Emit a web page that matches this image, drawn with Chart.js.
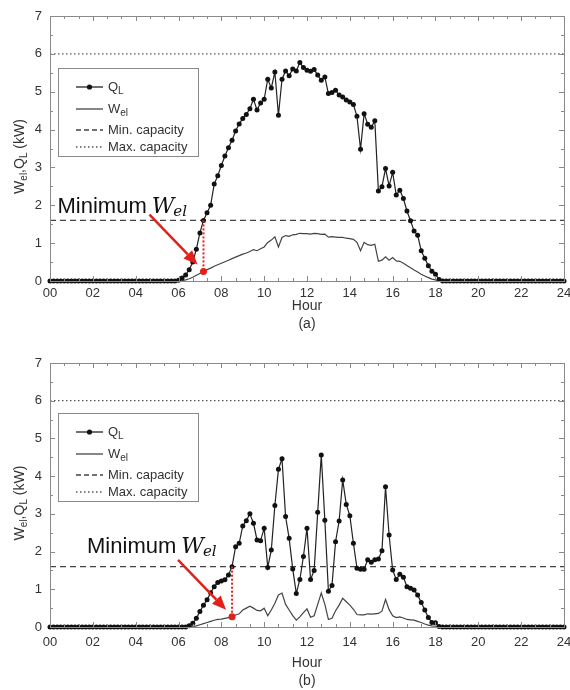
<!DOCTYPE html>
<html>
<head>
<meta charset="utf-8">
<script src="https://cdn.jsdelivr.net/npm/chart.js@4.4.1/dist/chart.umd.min.js"></script>
<style>
  html, body { margin: 0; padding: 0; background: #fff; }
  .panel { position: absolute; left: 0; width: 570px; height: 345px; }
</style>
</head>
<body>
<div class="panel" style="top:0"><canvas id="chartA" width="570" height="345"></canvas></div>
<div class="panel" style="top:345px"><canvas id="chartB" width="570" height="345"></canvas></div>
<script>
// Datos: un valor cada 10 minutos (00:00 a 24:00, 145 puntos)
const stepHours = 1 / 6;
const xTickLabels = ["00", "02", "04", "06", "08", "10", "12", "14", "16", "18", "20", "22", "24"];
const yTickLabels = ["0", "1", "2", "3", "4", "5", "6", "7"];
const minCapacity = 1.6;
const maxCapacity = 6.0;

// (a) Q_L
const qlA = [
  0,0,0,0,0,0,0,0,0,0, 0,0,0,0,0,0,0,0,0,0, 0,0,0,0,0,0,0,0,0,0, 0,0,0,0,0,0,
  0.02, 0.08, 0.16, 0.3, 0.5, 0.84, 1.27, 1.6, 1.8, 2.0,
  2.56, 2.78, 3.05, 3.3, 3.52, 3.72, 3.96, 4.15, 4.29, 4.4,
  4.55, 4.8, 4.52, 4.7, 4.8, 5.33, 5.1, 5.52, 4.38, 5.33,
  5.55, 5.42, 5.6, 5.55, 5.77, 5.64, 5.57, 5.54, 5.59, 5.44,
  5.3, 5.39, 4.95, 4.98, 5.04, 4.91, 4.86, 4.78, 4.73, 4.66,
  4.35, 3.48, 4.42, 4.14, 4.06, 4.23, 2.38, 2.49, 2.97, 2.51,
  2.87, 2.27, 2.4, 2.18, 1.85, 1.59, 1.32, 1.21, 0.8, 0.6,
  0.4, 0.26, 0.18, 0.04,
  0,0,0,0,0,0,0,0,0,0, 0,0,0,0,0,0,0,0,0,0, 0,0,0,0,0,0,0,0,0,0, 0,0,0,0,0
];
// (a) W_el
const welA = [
  0,0,0,0,0,0,0,0,0,0, 0,0,0,0,0,0,0,0,0,0, 0,0,0,0,0,0,0,0,0,0, 0,0,0,0,0,0,
  0, 0.01, 0.03, 0.06, 0.1, 0.15, 0.2, 0.25, 0.3, 0.34,
  0.39, 0.43, 0.47, 0.51, 0.55, 0.59, 0.63, 0.67, 0.71, 0.74,
  0.78, 0.83, 0.8, 0.85, 0.9, 1.02, 1.08, 1.17, 0.9, 1.15,
  1.2, 1.18, 1.22, 1.23, 1.26, 1.25, 1.25, 1.24, 1.26, 1.25,
  1.23, 1.24, 1.16, 1.17, 1.16, 1.15, 1.15, 1.13, 1.12, 1.1,
  1.02, 0.8, 1.02, 0.96, 0.94, 0.97, 0.52, 0.55, 0.64, 0.55,
  0.62, 0.53, 0.52, 0.47, 0.41, 0.35, 0.29, 0.24, 0.18, 0.13,
  0.09, 0.05, 0.03, 0.01,
  0,0,0,0,0,0,0,0,0,0, 0,0,0,0,0,0,0,0,0,0, 0,0,0,0,0,0,0,0,0,0, 0,0,0,0,0
];
// (b) Q_L
const qlB = [
  0,0,0,0,0,0,0,0,0,0, 0,0,0,0,0,0,0,0,0,0, 0,0,0,0,0,0,0,0,0,0, 0,0,0,0,0,0,0,0,0,
  0.03, 0.1, 0.23, 0.41, 0.58, 0.72, 0.91, 1.07, 1.18, 1.22,
  1.25, 1.38, 1.6, 2.13, 2.22, 2.68, 2.82, 3.0, 2.75, 2.31,
  2.29, 2.62, 1.58, 2.04, 3.22, 4.18, 4.46, 2.93, 2.35, 1.54,
  0.89, 1.26, 1.87, 2.62, 1.26, 1.5, 3.04, 4.56, 2.83, 0.95,
  1.1, 2.26, 2.81, 3.9, 3.25, 2.95, 2.22, 1.56, 1.53, 1.53,
  1.78, 1.72, 1.78, 1.8, 2.02, 3.72, 2.44, 1.51, 1.26, 1.4,
  1.32, 1.07, 1.03, 0.98, 0.85, 0.65, 0.45, 0.25, 0.12, 0.11,
  0.01,
  0,0,0,0,0,0,0,0,0,0, 0,0,0,0,0,0,0,0,0,0, 0,0,0,0,0,0,0,0,0,0, 0,0,0,0,0
];
// (b) W_el
const welB = [
  0,0,0,0,0,0,0,0,0,0, 0,0,0,0,0,0,0,0,0,0, 0,0,0,0,0,0,0,0,0,0, 0,0,0,0,0,0,0,0,0,
  0, 0.01, 0.03, 0.06, 0.09, 0.12, 0.15, 0.18, 0.2, 0.21,
  0.23, 0.25, 0.27, 0.32, 0.35, 0.45, 0.5, 0.55, 0.5, 0.44,
  0.43, 0.5, 0.3, 0.45, 0.63, 0.85, 0.9, 0.6, 0.45, 0.3,
  0.18, 0.27, 0.38, 0.48, 0.26, 0.3, 0.6, 0.9, 0.6, 0.2,
  0.23, 0.43, 0.58, 0.76, 0.67, 0.58, 0.47, 0.33, 0.32, 0.32,
  0.35, 0.34, 0.35, 0.36, 0.42, 0.73, 0.46, 0.3, 0.25, 0.27,
  0.24, 0.2, 0.19, 0.18, 0.15, 0.12, 0.08, 0.05, 0.03, 0.02,
  0.01,
  0,0,0,0,0,0,0,0,0,0, 0,0,0,0,0,0,0,0,0,0, 0,0,0,0,0,0,0,0,0,0, 0,0,0,0,0
];

const FONT = '"Liberation Sans", Arial, sans-serif';
const RED = "#e3211c";

// dibuja texto con subindices, devuelve el ancho
function drawParts(ctx, parts, x, y, size, subSize, drop, onlyMeasure) {
  let cx = x;
  parts.forEach((p) => {
    ctx.font = (p.sub ? subSize : size) + "px " + FONT;
    if (!onlyMeasure) ctx.fillText(p.t, cx, y + (p.sub ? drop : 0));
    cx += ctx.measureText(p.t).width;
  });
  return cx - x;
}

const decorPlugin = {
  id: "decor",
  afterDatasetsDraw(chart, args, opts) {
    const ctx = chart.ctx;
    const xs = chart.scales.x;
    const ys = chart.scales.y;
    const a = chart.chartArea;
    ctx.save();

    // marco y marcas hacia dentro
    ctx.strokeStyle = "#8a8a8a";
    ctx.lineWidth = 1;
    ctx.setLineDash([]);
    ctx.strokeRect(Math.round(a.left) + 0.5, Math.round(a.top) + 0.5, Math.round(a.width), Math.round(a.height));
    ctx.beginPath();
    for (let h = 0; h <= 24.001; h += 2 / 3) {
      const major = Math.abs(h / 2 - Math.round(h / 2)) < 0.01;
      const len = major ? 5 : 3;
      const px = Math.round(xs.getPixelForValue(h)) + 0.5;
      ctx.moveTo(px, a.bottom); ctx.lineTo(px, a.bottom - len);
      ctx.moveTo(px, a.top); ctx.lineTo(px, a.top + len);
    }
    for (let v = 0; v <= 7.001; v += 0.5) {
      const major = Math.abs(v - Math.round(v)) < 0.01;
      const len = major ? 5 : 3;
      const py = Math.round(ys.getPixelForValue(v)) + 0.5;
      ctx.moveTo(a.left, py); ctx.lineTo(a.left + len, py);
      ctx.moveTo(a.right, py); ctx.lineTo(a.right - len, py);
    }
    ctx.stroke();

    // titulos de ejes
    ctx.fillStyle = "#333";
    ctx.textAlign = "center";
    ctx.textBaseline = "middle";
    ctx.font = "14px " + FONT;
    const cx = (a.left + a.right) / 2;
    ctx.fillText("Hour", cx, opts.hourY);
    ctx.fillText(opts.caption, cx, opts.capY);

    const titleParts = [
      { t: "W" }, { t: "el", sub: true }, { t: "," }, { t: "Q" }, { t: "L", sub: true }, { t: " (kW)" }
    ];
    ctx.save();
    ctx.translate(20, (a.top + a.bottom) / 2 + 8);
    ctx.rotate(-Math.PI / 2);
    ctx.textAlign = "left";
    const tw = drawParts(ctx, titleParts, 0, 0, 14, 10, 4, true);
    drawParts(ctx, titleParts, -tw / 2, 0, 14, 10, 4, false);
    ctx.restore();

    // leyenda
    const lb = opts.legend;
    ctx.strokeStyle = "#8a8a8a";
    ctx.lineWidth = 1;
    ctx.strokeRect(lb.x + 0.5, lb.y + 0.5, lb.w, lb.h);
    const rows = [
      { parts: [{ t: "Q" }, { t: "L", sub: true }], dash: [], color: "#222", dot: true },
      { parts: [{ t: "W" }, { t: "el", sub: true }], dash: [], color: "#444", dot: false },
      { parts: [{ t: "Min. capacity" }], dash: [5, 3], color: "#444", dot: false },
      { parts: [{ t: "Max. capacity" }], dash: [1.5, 2.5], color: "#555", dot: false }
    ];
    ctx.textAlign = "left";
    ctx.textBaseline = "middle";
    rows.forEach((r, i) => {
      const ry = lb.y + lb.rows[i];
      ctx.strokeStyle = r.color;
      ctx.lineWidth = 1.3;
      ctx.setLineDash(r.dash);
      ctx.beginPath();
      ctx.moveTo(lb.x + 18, ry);
      ctx.lineTo(lb.x + 45, ry);
      ctx.stroke();
      ctx.setLineDash([]);
      if (r.dot) {
        ctx.fillStyle = "#111";
        ctx.beginPath();
        ctx.arc(lb.x + 31.5, ry, 2.6, 0, Math.PI * 2);
        ctx.fill();
      }
      ctx.fillStyle = "#333";
      drawParts(ctx, r.parts, lb.x + 50, ry, 13, 10, 4, false);
    });

    // anotacion "Minimum W_el"
    const k = opts.minIdx;
    const meta = chart.data.datasets;
    const px = xs.getPixelForValue(k * stepHours);
    const pyQ = ys.getPixelForValue(meta[0].data[k].y);
    const pyW = ys.getPixelForValue(meta[1].data[k].y);
    ctx.strokeStyle = RED;
    ctx.lineWidth = 2;
    ctx.setLineDash([2, 2]);
    ctx.beginPath();
    ctx.moveTo(px, pyQ);
    ctx.lineTo(px, pyW);
    ctx.stroke();
    ctx.setLineDash([]);
    ctx.fillStyle = RED;
    ctx.beginPath();
    ctx.arc(px, pyW, 3.5, 0, Math.PI * 2);
    ctx.fill();

    // flecha
    const sx = px - 54, sy = pyW - 57;
    const tx = px - 6, ty = pyW - 7;
    const ang = Math.atan2(ty - sy, tx - sx);
    const headLen = 14, headW = 6;
    const bx = tx - headLen * Math.cos(ang), by = ty - headLen * Math.sin(ang);
    ctx.lineWidth = 2.5;
    ctx.beginPath();
    ctx.moveTo(sx, sy);
    ctx.lineTo(bx, by);
    ctx.stroke();
    ctx.beginPath();
    ctx.moveTo(tx, ty);
    ctx.lineTo(bx + headW * Math.sin(ang), by - headW * Math.cos(ang));
    ctx.lineTo(bx - headW * Math.sin(ang), by + headW * Math.cos(ang));
    ctx.closePath();
    ctx.fill();

    // texto
    ctx.fillStyle = "#111";
    ctx.textBaseline = "alphabetic";
    ctx.font = "22px " + FONT;
    const txX = px + opts.textOff[0], txY = pyW + opts.textOff[1];
    ctx.fillText("Minimum", txX, txY);
    const mw = ctx.measureText("Minimum").width;
    ctx.font = 'italic 22px "DejaVu Serif", "Liberation Serif", serif';
    ctx.fillText("W", txX + mw + 5, txY);
    const ww = ctx.measureText("W").width;
    ctx.font = 'italic 15px "DejaVu Serif", "Liberation Serif", serif';
    ctx.fillText("el", txX + mw + 5 + ww - 1, txY + 3);

    ctx.restore();
  }
};

function toPoints(values) {
  return values.map((v, i) => ({ x: i * stepHours, y: v }));
}

function makeChart(p) {
  const ctx = document.getElementById(p.id).getContext("2d");
  return new Chart(ctx, {
    type: "line",
    data: {
      datasets: [
        {
          label: "QL",
          data: toPoints(p.ql),
          borderColor: "#222",
          borderWidth: 1.2,
          pointRadius: 2.5,
          pointBackgroundColor: "#111",
          pointBorderWidth: 0,
          tension: 0,
          clip: false,
          order: 1
        },
        {
          label: "Wel",
          data: toPoints(p.wel),
          borderColor: "#444",
          borderWidth: 1.2,
          pointRadius: 0,
          tension: 0,
          order: 2
        },
        {
          label: "Min. capacity",
          data: [{ x: 0, y: minCapacity }, { x: 24, y: minCapacity }],
          borderColor: "#444",
          borderWidth: 1.3,
          borderDash: [6, 4],
          pointRadius: 0,
          order: 3
        },
        {
          label: "Max. capacity",
          data: [{ x: 0, y: maxCapacity }, { x: 24, y: maxCapacity }],
          borderColor: "#555",
          borderWidth: 1.3,
          borderDash: [1.5, 2.5],
          pointRadius: 0,
          order: 4
        }
      ]
    },
    options: {
      responsive: false,
      animation: false,
      events: [],
      layout: { padding: { left: 0, right: 6, top: p.padTop, bottom: 0 } },
      scales: {
        x: {
          type: "linear",
          min: 0,
          max: 24,
          grid: { display: false, drawTicks: false },
          border: { display: false },
          ticks: {
            stepSize: 2,
            autoSkip: false,
            maxRotation: 0,
            padding: p.tickPad,
            color: "#333",
            font: { family: FONT, size: 13 },
            callback: (v, i) => xTickLabels[i]
          },
          afterFit: (s) => { s.height = p.axisH; s.paddingLeft = 0; s.paddingRight = 0; }
        },
        y: {
          min: 0,
          max: 7,
          grid: { display: false, drawTicks: false },
          border: { display: false },
          ticks: {
            stepSize: 1,
            padding: 8,
            color: "#333",
            font: { family: FONT, size: 13 },
            callback: (v, i) => yTickLabels[i]
          },
          afterFit: (s) => { s.width = 50; s.paddingTop = 0; s.paddingBottom = 0; }
        }
      },
      plugins: {
        legend: { display: false },
        tooltip: { enabled: false },
        decor: {
          caption: p.caption,
          hourY: p.hourY,
          capY: p.capY,
          minIdx: p.minIdx,
          textOff: p.textOff,
          legend: { x: 58, y: 68, w: 140, h: 88, rows: [19, 41, 62, 79] }
        }
      }
    },
    plugins: [decorPlugin]
  });
}

makeChart({ id: "chartA", ql: qlA, wel: welA, minIdx: 43, caption: "(a)", padTop: 16, axisH: 64, tickPad: 5, hourY: 306, capY: 324, textOff: [-146, -59] });
makeChart({ id: "chartB", ql: qlB, wel: welB, minIdx: 51, caption: "(b)", padTop: 18, axisH: 63, tickPad: 8, hourY: 318, capY: 336, textOff: [-145, -64] });
</script>
</body>
</html>
